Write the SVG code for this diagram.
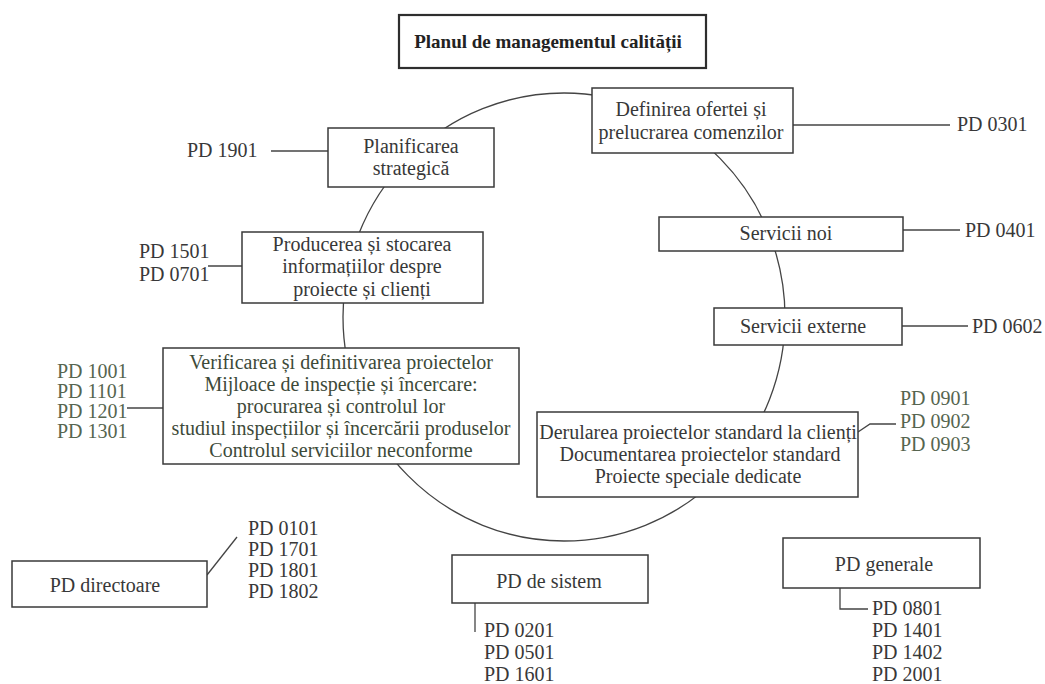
<svg xmlns="http://www.w3.org/2000/svg" width="1045" height="684" viewBox="0 0 1045 684">
  <style>
    .box { fill: #ffffff; stroke: #3a3a3a; stroke-width: 1.5; }
    .title-box { fill: #ffffff; stroke: #2e2e2e; stroke-width: 2.2; }
    .wire { fill: none; stroke: #444444; stroke-width: 1.3; }
    text { font-family: "Liberation Serif", "Times New Roman", serif; font-size: 20px; fill: #383838; }
    .c { text-anchor: middle; }
    .title { font-size: 19px; font-weight: bold; fill: #222222; }
    .green { fill: #3d4a39; }
    .pale-green { fill: #56654f; }
  </style>

  <rect width="1045" height="684" fill="#ffffff"/>

  <!-- connectors: the process cycle and the procedure leader lines -->
  <g id="connectors">
    <ellipse class="wire" cx="564" cy="317" rx="221" ry="224"/>
    <line class="wire" x1="271" y1="151" x2="328" y2="151"/>
    <line class="wire" x1="793" y1="125" x2="950" y2="125"/>
    <line class="wire" x1="208" y1="266" x2="242" y2="266"/>
    <line class="wire" x1="903" y1="230" x2="960" y2="230"/>
    <line class="wire" x1="902" y1="326" x2="968" y2="326"/>
    <line class="wire" x1="127" y1="408" x2="163" y2="408"/>
    <polyline class="wire" points="858,432 870,424 896,424"/>
    <line class="wire" x1="207" y1="575" x2="237" y2="537"/>
    <line class="wire" x1="475" y1="603" x2="475" y2="632"/>
    <polyline class="wire" points="840,588 840,609 868,609"/>
  </g>

  <g id="title">
    <rect class="title-box" x="399" y="15" width="307" height="53"/>
    <text class="c title" x="548" y="48">Planul de managementul calității</text>
  </g>

  <g id="definirea-ofertei">
    <rect class="box" x="592" y="88" width="201" height="65"/>
    <text class="c" x="691" y="116">Definirea ofertei și</text>
    <text class="c" x="691" y="139">prelucrarea comenzilor</text>
  </g>

  <g id="planificarea">
    <rect class="box" x="328" y="128" width="166" height="59"/>
    <text class="c" x="411" y="153">Planificarea</text>
    <text class="c" x="411" y="175">strategică</text>
  </g>

  <g id="producerea">
    <rect class="box" x="242" y="232" width="241" height="71"/>
    <text class="c" x="362" y="251">Producerea și stocarea</text>
    <text class="c" x="362" y="273">informațiilor despre</text>
    <text class="c" x="362" y="296">proiecte și clienți</text>
  </g>

  <g id="servicii-noi">
    <rect class="box" x="659" y="217" width="244" height="34"/>
    <text class="c" x="786" y="240">Servicii noi</text>
  </g>

  <g id="servicii-externe">
    <rect class="box" x="714" y="308" width="188" height="37"/>
    <text class="c" x="803" y="333">Servicii externe</text>
  </g>

  <g id="verificarea">
    <rect class="box" x="163" y="348" width="356" height="116"/>
    <text class="c green" x="341" y="369">Verificarea și definitivarea proiectelor</text>
    <text class="c green" x="341" y="391">Mijloace de inspecție și încercare:</text>
    <text class="c green" x="341" y="413">procurarea și controlul lor</text>
    <text class="c green" x="341" y="435">studiul inspecțiilor și încercării produselor</text>
    <text class="c green" x="341" y="457">Controlul serviciilor neconforme</text>
  </g>

  <g id="derularea">
    <rect class="box" x="537" y="412" width="321" height="85"/>
    <text class="c" x="698" y="439">Derularea proiectelor standard la clienți</text>
    <text class="c" x="700" y="461">Documentarea proiectelor standard</text>
    <text class="c" x="698" y="483">Proiecte speciale dedicate</text>
  </g>

  <g id="pd-directoare">
    <rect class="box" x="12" y="561" width="195" height="46"/>
    <text class="c" x="105" y="592">PD directoare</text>
  </g>

  <g id="pd-de-sistem">
    <rect class="box" x="452" y="555" width="196" height="48"/>
    <text class="c" x="549" y="588">PD de sistem</text>
  </g>

  <g id="pd-generale">
    <rect class="box" x="783" y="538" width="197" height="50"/>
    <text class="c" x="884" y="571">PD generale</text>
  </g>

  <!-- procedure codes attached to each process -->
  <g id="codes-0301"><text x="957" y="131">PD 0301</text></g>
  <g id="codes-1901"><text x="187" y="157">PD 1901</text></g>
  <g id="codes-1501">
    <text x="139" y="258">PD 1501</text>
    <text x="139" y="281">PD 0701</text>
  </g>
  <g id="codes-0401"><text x="965" y="237">PD 0401</text></g>
  <g id="codes-0602"><text x="972" y="333">PD 0602</text></g>
  <g id="codes-1001">
    <text class="pale-green" x="57" y="378">PD 1001</text>
    <text class="pale-green" x="57" y="398">PD 1101</text>
    <text class="pale-green" x="57" y="418">PD 1201</text>
    <text class="pale-green" x="57" y="438">PD 1301</text>
  </g>
  <g id="codes-0901">
    <text class="pale-green" x="900" y="405">PD 0901</text>
    <text class="pale-green" x="900" y="428">PD 0902</text>
    <text class="pale-green" x="900" y="451">PD 0903</text>
  </g>
  <g id="codes-directoare">
    <text x="248" y="535">PD 0101</text>
    <text x="248" y="556">PD 1701</text>
    <text x="248" y="577">PD 1801</text>
    <text x="248" y="598">PD 1802</text>
  </g>
  <g id="codes-sistem">
    <text x="484" y="637">PD 0201</text>
    <text x="484" y="659">PD 0501</text>
    <text x="484" y="681">PD 1601</text>
  </g>
  <g id="codes-generale">
    <text x="872" y="615">PD 0801</text>
    <text x="872" y="637">PD 1401</text>
    <text x="872" y="659">PD 1402</text>
    <text x="872" y="681">PD 2001</text>
  </g>
</svg>
